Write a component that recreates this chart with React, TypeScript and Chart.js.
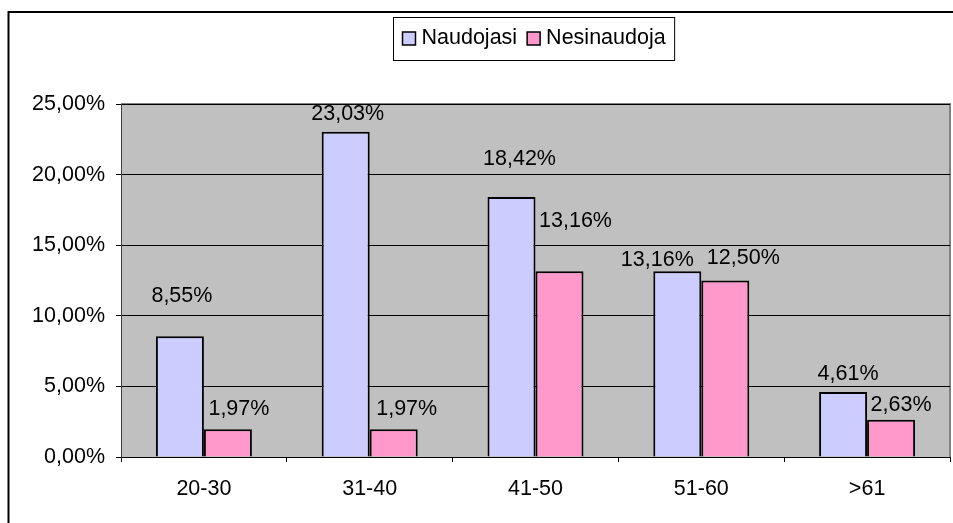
import React, { useEffect, useRef } from "react";
import { Chart, registerables } from "chart.js";

Chart.register(...registerables);

const categories = ["20-30", "31-40", "41-50", "51-60", ">61"];
const seriesNames = ["Naudojasi", "Nesinaudoja"];
const naudojasi = [8.55, 23.03, 18.42, 13.16, 4.61];
const nesinaudoja = [1.97, 1.97, 13.16, 12.5, 2.63];
const yTicks = [0, 5, 10, 15, 20, 25];

// manual label nudges (px) as in the original, relative to bar top centre
const labelNudge = [
  [[2, -40], [2, -18], [8, -38], [-20, -11], [5, -18]],
  [[11, -20], [13, -20], [16, -50], [18, -22], [10, -15]],
];

const COLORS = ["#CCCCFF", "#FF99CC"];
const FONT = "Liberation Sans, Arial, sans-serif";
const FS = 21.5;

const fmt = (v: number) => v.toFixed(2).replace(".", ",") + "%";

const decorPlugin = {
  id: "decor",
  beforeDraw(chart: any) {
    const { ctx, chartArea: a } = chart;
    ctx.save();
    ctx.fillStyle = "#fff";
    ctx.fillRect(0, 0, chart.width, chart.height);
    // outer frame
    ctx.strokeStyle = "#000";
    ctx.lineWidth = 2;
    ctx.beginPath();
    ctx.moveTo(8.5, chart.height + 5);
    ctx.lineTo(8.5, 12);
    ctx.lineTo(chart.width + 5, 12);
    ctx.stroke();
    // plot area
    ctx.fillStyle = "#C0C0C0";
    ctx.fillRect(a.left, a.top, a.right - a.left, a.bottom - a.top);
    ctx.strokeStyle = "#808080";
    ctx.lineWidth = 2;
    ctx.beginPath();
    ctx.moveTo(a.left, a.top);
    ctx.lineTo(a.right, a.top);
    ctx.lineTo(a.right, a.bottom);
    ctx.stroke();
    ctx.restore();
  },
  afterDatasetsDraw(chart: any) {
    const { ctx } = chart;
    ctx.save();
    ctx.font = `${FS}px ${FONT}`;
    ctx.fillStyle = "#000";
    ctx.textAlign = "center";
    ctx.textBaseline = "middle";
    chart.data.datasets.forEach((ds: any, di: number) => {
      const meta = chart.getDatasetMeta(di);
      meta.data.forEach((bar: any, i: number) => {
        const [dx, dy] = labelNudge[di][i];
        ctx.fillText(fmt(ds.data[i]), bar.x + dx, bar.y + dy);
      });
    });
    // legend
    const cx = 533.5;
    const top = 17;
    const h = 43;
    const mid = top + h / 2;
    const sq = 13;
    const w0 = ctx.measureText(seriesNames[0]).width;
    const w1 = ctx.measureText(seriesNames[1]).width;
    const total = 9 + sq + 6 + w0 + 10 + sq + 6 + w1 + 9;
    const left = Math.round(cx - total / 2) + 0.5;
    ctx.fillStyle = "#fff";
    ctx.fillRect(left, top + 0.5, total, h);
    ctx.strokeStyle = "#000";
    ctx.lineWidth = 1;
    ctx.strokeRect(left, top + 0.5, total, h);
    let x = left + 9;
    ctx.textAlign = "left";
    seriesNames.forEach((n, k) => {
      ctx.fillStyle = COLORS[k];
      ctx.fillRect(x, mid - sq / 2, sq, sq);
      ctx.lineWidth = 1.5;
      ctx.strokeStyle = "#000";
      ctx.strokeRect(x, mid - sq / 2, sq, sq);
      x += sq + 6;
      ctx.fillStyle = "#000";
      ctx.fillText(n, x, mid);
      x += (k === 0 ? w0 : w1) + 10;
    });
    ctx.restore();
  },
};

export default function App() {
  const ref = useRef<HTMLCanvasElement>(null);
  useEffect(() => {
    if (!ref.current) return;
    const chart = new Chart(ref.current, {
      type: "bar",
      data: {
        labels: categories,
        datasets: [
          {
            label: seriesNames[0],
            data: naudojasi,
            backgroundColor: COLORS[0],
            borderColor: "#000",
            borderWidth: 2,
          },
          {
            label: seriesNames[1],
            data: nesinaudoja,
            backgroundColor: COLORS[1],
            borderColor: "#000",
            borderWidth: 2,
          },
        ],
      },
      options: {
        animation: false,
        responsive: false,
        maintainAspectRatio: false,
        layout: { padding: { left: 0, top: 104, right: 3, bottom: 0 } },
        plugins: { legend: { display: false }, tooltip: { enabled: false } },
        datasets: { bar: { categoryPercentage: 0.579, barPercentage: 1 } },
        scales: {
          x: {
            grid: {
              drawOnChartArea: false,
              offset: true,
              color: "#000",
              tickLength: 5,
            },
            border: { color: "#000", width: 1 },
            ticks: {
              color: "#000",
              font: { family: FONT, size: FS },
              padding: 14,
            },
            afterFit: (s: any) => {
              s.height = 66;
            },
          },
          y: {
            min: 0,
            max: 25,
            afterBuildTicks: (s: any) => {
              s.ticks = yTicks.map((v) => ({ value: v }));
            },
            grid: { color: "#000", tickLength: 5, lineWidth: 1 },
            border: { color: "#404040", width: 1 },
            ticks: {
              color: "#000",
              font: { family: FONT, size: FS },
              padding: 11,
              callback: (v: any) => fmt(Number(v)),
            },
            afterFit: (s: any) => {
              s.width = 121;
            },
          },
        },
      },
      plugins: [decorPlugin],
    });
    return () => chart.destroy();
  }, []);
  return (
    <div style={{ position: "fixed", left: 0, top: 0, width: 953, height: 523 }}>
      <canvas ref={ref} width={953} height={523} style={{ display: "block" }} />
    </div>
  );
}
